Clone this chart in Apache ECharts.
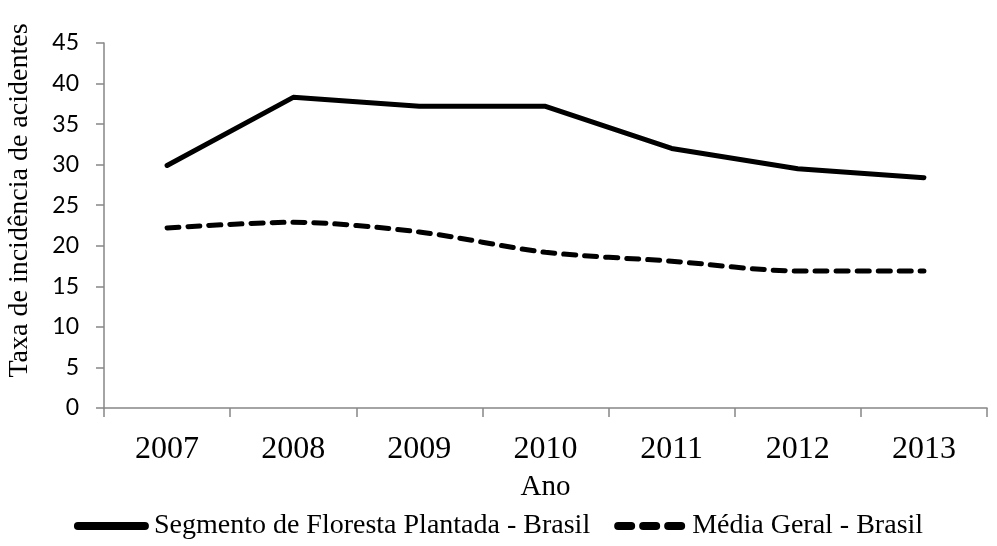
<!DOCTYPE html>
<html><head><meta charset="utf-8">
<script src="https://cdn.jsdelivr.net/npm/echarts@6/dist/echarts.min.js"></script>
<style>html,body{margin:0;padding:0;background:#fff}#c{width:997px;height:546px}</style>
</head><body><div id="c"></div>
<script>
const categories = ['2007','2008','2009','2010','2011','2012','2013'];
const florestaPlantada = [29.9, 38.3, 37.2, 37.2, 32.0, 29.5, 28.4];
const mediaGeral = [22.2, 22.9, 21.7, 19.2, 18.1, 16.9, 16.9];
const seriesNames = ['Segmento de Floresta Plantada - Brasil', 'Média Geral - Brasil'];
const yTicks = {min: 0, max: 45, interval: 5};

const solidIcon = 'path://M4,0H71A4,4 0 0 1 71,8H4A4,4 0 0 1 4,0Z';
const dashIcon = 'path://M4,0H17A4,4 0 0 1 17,8H4A4,4 0 0 1 4,0Z M29,0H42A4,4 0 0 1 42,8H29A4,4 0 0 1 29,0Z M54,0H67A4,4 0 0 1 67,8H54A4,4 0 0 1 54,0Z';

const chart = echarts.init(document.getElementById('c'), null, {renderer: 'canvas'});
const axisGray = '#868686';
chart.setOption({
  animation: false,
  backgroundColor: '#fff',
  grid: {left: 104, right: 10, top: 43, bottom: 138, containLabel: false, outerBoundsMode: 'none'},
  legend: {
    bottom: 1, left: 'center', itemWidth: 75, itemHeight: 8, itemGap: 24,
    textStyle: {fontFamily: 'Liberation Serif', fontSize: 28, color: '#000'},
    data: [
      {name: seriesNames[0], icon: solidIcon, itemStyle: {color: '#000'}},
      {name: seriesNames[1], icon: dashIcon, itemStyle: {color: '#000'}}
    ]
  },
  xAxis: {
    type: 'category', data: categories, boundaryGap: true,
    name: 'Ano', nameLocation: 'middle', nameGap: 65,
    nameTextStyle: {fontFamily: 'Liberation Serif', fontSize: 29, color: '#000'},
    axisLine: {lineStyle: {color: axisGray, width: 1.5}},
    axisTick: {show: true, length: 9, lineStyle: {color: axisGray, width: 1.5}},
    axisLabel: {fontFamily: 'Liberation Serif', fontSize: 32, color: '#000', margin: 26}
  },
  yAxis: {
    type: 'value', min: yTicks.min, max: yTicks.max, interval: yTicks.interval,
    name: 'Taxa de incidência de acidentes', nameLocation: 'middle', nameGap: 70,
    nameTextStyle: {fontFamily: 'Liberation Serif', fontSize: 28, color: '#000', padding: [0, 0, 0, 50]},
    axisLine: {show: true, lineStyle: {color: axisGray, width: 1.5}},
    axisTick: {show: true, length: 8, lineStyle: {color: axisGray, width: 1.5}},
    splitLine: {show: false},
    axisLabel: {fontFamily: 'Lato', fontSize: 23, color: '#000', margin: 25}
  },
  series: [
    {name: seriesNames[0], type: 'line', data: florestaPlantada, symbol: 'none',
     lineStyle: {color: '#000', width: 5, cap: 'round', join: 'round'}, itemStyle: {color: '#000'}},
    {name: seriesNames[1], type: 'line', data: mediaGeral, symbol: 'none', smooth: 0.3,
     lineStyle: {color: '#000', width: 5, type: [12, 9], cap: 'round'}, itemStyle: {color: '#000'}}
  ]
});
</script></body></html>
